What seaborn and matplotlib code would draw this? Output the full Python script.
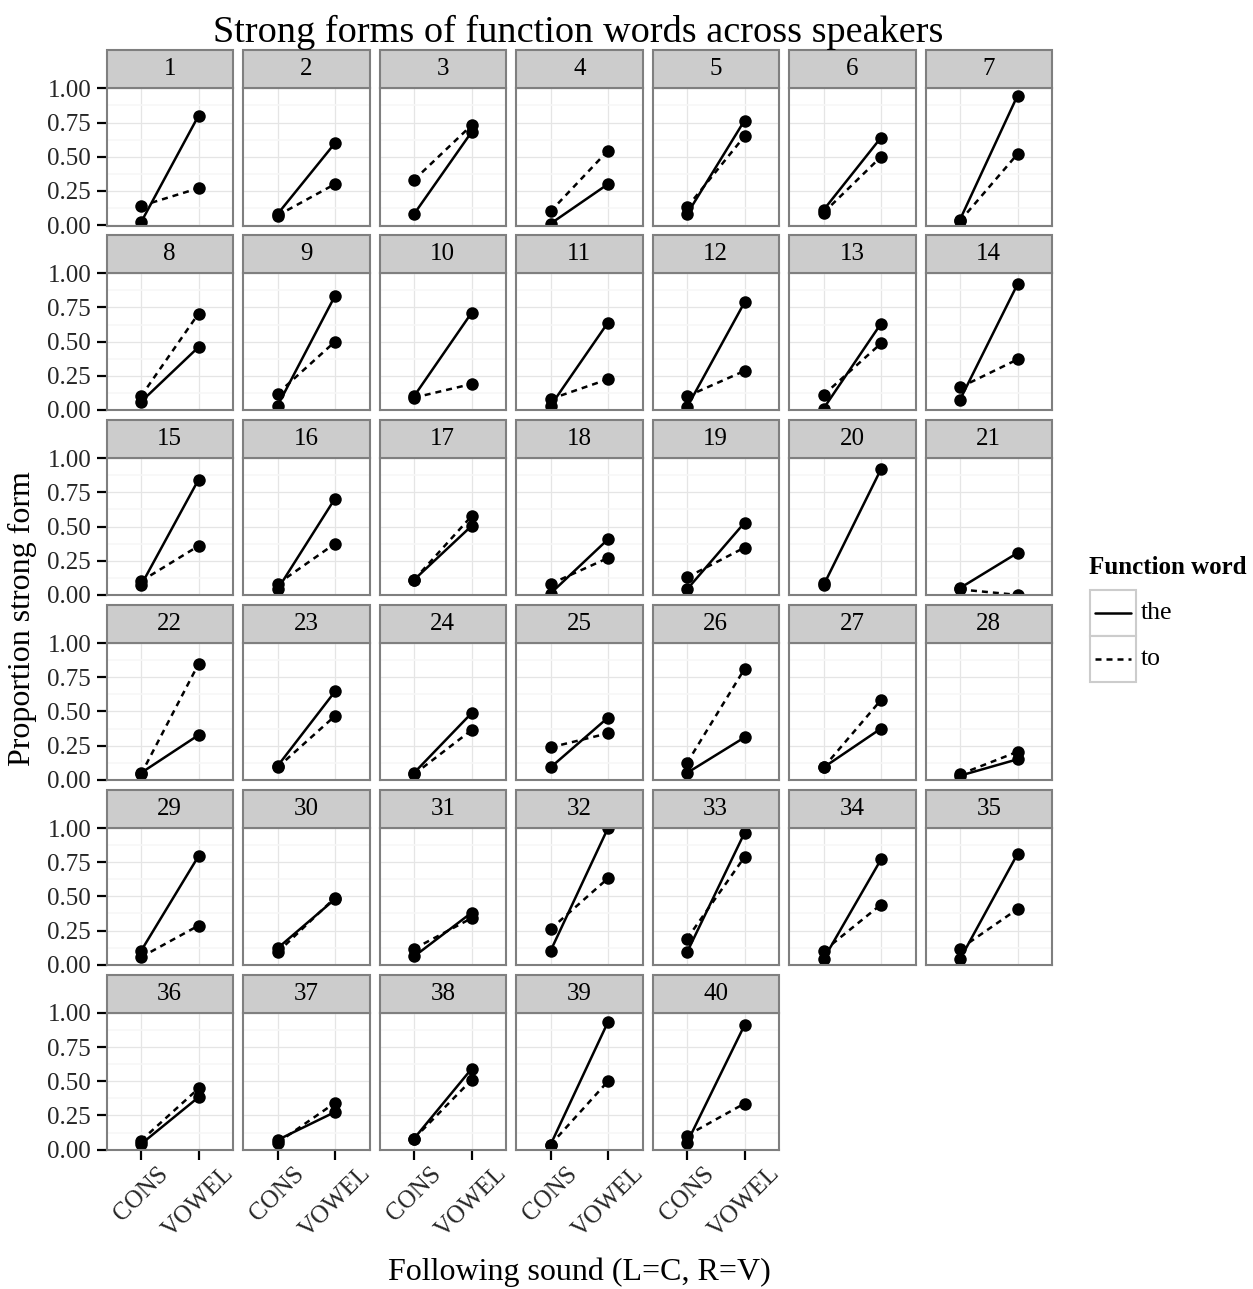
import numpy as np
import pandas as pd
import matplotlib
matplotlib.use("Agg")
import matplotlib.pyplot as plt
import seaborn as sns
from matplotlib.patches import Rectangle
from matplotlib.lines import Line2D

# ---------------- data ----------------
speakers = list(range(1, 41))
sounds = ["CONS", "VOWEL"]
words = ["the", "to"]
y_ticks = [0.00, 0.25, 0.50, 0.75, 1.00]
y_tick_labels = ["0.00", "0.25", "0.50", "0.75", "1.00"]

the_cons = [0.02, 0.08, 0.08, 0.01, 0.08, 0.11, 0.04,
            0.06, 0.03, 0.10, 0.03, 0.02, 0.01, 0.075,
            0.07, 0.04, 0.11, 0.01, 0.04, 0.07, 0.05,
            0.05, 0.10, 0.05, 0.09, 0.05, 0.09, 0.03,
            0.10, 0.12, 0.06, 0.10, 0.09, 0.04, 0.04,
            0.04, 0.07, 0.08, 0.035, 0.05]
the_vowel = [0.80, 0.60, 0.68, 0.30, 0.765, 0.64, 0.947,
             0.46, 0.835, 0.71, 0.64, 0.787, 0.632, 0.92,
             0.843, 0.705, 0.504, 0.407, 0.528, 0.92, 0.307,
             0.327, 0.646, 0.487, 0.455, 0.31, 0.375, 0.15,
             0.794, 0.48, 0.38, 1.00, 0.964, 0.77, 0.81,
             0.383, 0.275, 0.59, 0.934, 0.91]
to_cons = [0.14, 0.07, 0.33, 0.10, 0.13, 0.09, 0.03,
           0.10, 0.12, 0.09, 0.08, 0.10, 0.11, 0.165,
           0.10, 0.08, 0.11, 0.08, 0.128, 0.09, 0.04,
           0.04, 0.09, 0.04, 0.237, 0.123, 0.09, 0.04,
           0.055, 0.09, 0.116, 0.26, 0.19, 0.10, 0.116,
           0.066, 0.05, 0.08, 0.035, 0.103]
to_vowel = [0.27, 0.30, 0.73, 0.545, 0.65, 0.50, 0.52,
            0.705, 0.50, 0.19, 0.225, 0.286, 0.487, 0.37,
            0.358, 0.375, 0.576, 0.27, 0.346, np.nan, 0.00,
            0.847, 0.467, 0.363, 0.34, 0.811, 0.584, 0.205,
            0.286, 0.49, 0.34, 0.632, 0.787, 0.44, 0.407,
            0.447, 0.342, 0.509, 0.50, 0.337]

rows = []
for i, spk in enumerate(speakers):
    for word, cons, vow in (("the", the_cons, the_vowel), ("to", to_cons, to_vowel)):
        rows.append((spk, word, "CONS", cons[i]))
        rows.append((spk, word, "VOWEL", vow[i]))
df = pd.DataFrame(rows, columns=["speaker", "word", "sound", "prop"]).dropna()

# ---------------- style ----------------
sns.set_theme(style="white")
plt.rcParams["font.family"] = ["Liberation Serif", "DejaVu Serif"]

W, H = 1253, 1289
fig = plt.figure(figsize=(W / 100, H / 100), dpi=100)
fig.patch.set_facecolor("white")

left_px, pw, gap = 106.5, 126.5, 10.0
top_px, ph = 88.0, 137.5
row_pitch = (1150 - top_px - ph) / 5.0
ncol = 7
nrows = 6
strip_h = 38.0 / ph

border_col = "#7F7F7F"
grid_major = "#E5E5E5"
grid_minor = "#F7F7F7"
tick_fs = 18
strip_fs = 18
lw = 1.8
dash_spec = (2.4, 2.0)

dash_map = {"the": "", "to": dash_spec}
marker_map = {"the": "o", "to": "o"}

for idx, spk in enumerate(speakers):
    r, c = divmod(idx, ncol)
    x0 = left_px + c * (pw + gap)
    y0 = top_px + r * row_pitch
    ax = fig.add_axes([x0 / W, 1 - (y0 + ph) / H, pw / W, ph / H])
    ax.set_facecolor("white")
    sub = df[df["speaker"] == spk]
    sns.lineplot(data=sub, x="sound", y="prop", style="word", style_order=words,
                 dashes=dash_map, markers=marker_map, color="black",
                 linewidth=lw, markersize=9, markeredgewidth=0,
                 estimator=None, legend=False, ax=ax)
    ax.set_xlim(-0.6, 1.6)
    ax.set_ylim(-0.003, 1.003)
    ax.set_xlabel("")
    ax.set_ylabel("")
    ax.set_xticks([0, 1])
    ax.set_yticks(y_ticks)
    ax.set_yticks([0.125, 0.375, 0.625, 0.875], minor=True)
    ax.grid(which="major", color=grid_major, linewidth=0.9, zorder=0)
    ax.grid(which="minor", axis="y", color=grid_minor, linewidth=1.2, zorder=0)
    ax.set_axisbelow(True)
    for sp in ax.spines.values():
        sp.set_color(border_col)
        sp.set_linewidth(1.5)
        sp.set_zorder(5)
    ax.tick_params(which="minor", length=0)
    if c == 0:
        ax.set_yticklabels(y_tick_labels, fontsize=tick_fs)
        ax.tick_params(axis="y", which="major", length=7, width=1.6,
                       color="black", pad=4, direction="out", left=True)
    else:
        ax.set_yticklabels([])
        ax.tick_params(axis="y", which="major", length=0)
    if r == nrows - 1:
        ax.set_xticklabels(sounds, fontsize=tick_fs, rotation=45,
                           ha="center", va="top")
        ax.tick_params(axis="x", which="major", length=7, width=1.6,
                       color="black", pad=2, direction="out", bottom=True)
    else:
        ax.set_xticklabels([])
        ax.tick_params(axis="x", which="major", length=0)
    ax.add_patch(Rectangle((0, 1), 1, strip_h, transform=ax.transAxes,
                           facecolor="#CCCCCC", edgecolor=border_col,
                           linewidth=1.5, clip_on=False, zorder=6))
    ax.text(0.5, 1 + strip_h / 2, str(spk), transform=ax.transAxes,
            ha="center", va="center", fontsize=strip_fs, color="black",
            zorder=7)

# ---------------- titles ----------------
fig.text(578 / W, 1 - 42 / H, "Strong forms of function words across speakers",
         ha="center", va="baseline", fontsize=27.5, color="black")
fig.text(579 / W, 1 - 1280 / H, "Following sound (L=C, R=V)",
         ha="center", va="baseline", fontsize=23, color="black")
fig.text(22 / W, 1 - 619 / H, "Proportion strong form", rotation=90,
         ha="center", va="center", fontsize=23, color="black")

# ---------------- legend ----------------
fig.text(1089 / W, 1 - 567 / H, "Function word", ha="left", va="center",
         fontsize=18, fontweight="bold", color="black")
key_x0, key_w, key_h = 1090, 46, 46
for k, word in enumerate(words):
    ky0 = 590 + k * key_h
    fig.patches.append(Rectangle((key_x0 / W, 1 - (ky0 + key_h) / H), key_w / W, key_h / H,
                                 transform=fig.transFigure, facecolor="white",
                                 edgecolor="#CCCCCC", linewidth=1.5))
    yc = 1 - (ky0 + key_h / 2) / H
    ln = Line2D([(key_x0 + 5) / W, (key_x0 + key_w - 5) / W], [yc, yc],
                transform=fig.transFigure, color="black", linewidth=lw)
    if word == "to":
        ln.set_dashes(dash_spec)
    fig.lines.append(ln)
    fig.text((key_x0 + key_w + 5) / W, yc, word, ha="left", va="center",
             fontsize=18.5, color="black")

fig.savefig("out.png", dpi=100, facecolor="white")
